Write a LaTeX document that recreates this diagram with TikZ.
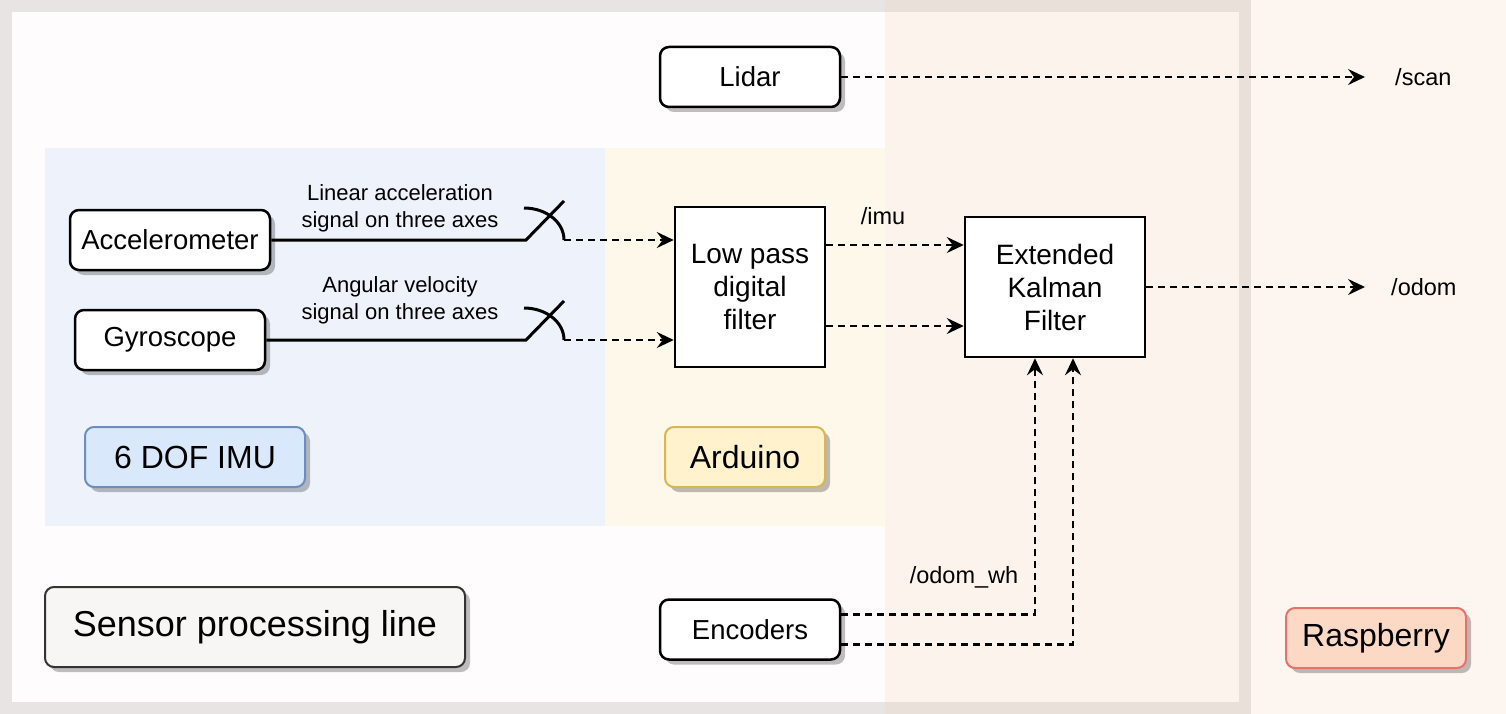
\documentclass[tikz,border=0pt]{standalone}
\usepackage{fontspec}
\setmainfont{Liberation Sans}
\usetikzlibrary{positioning, arrows.meta, shadows}

\definecolor{framegrey}{HTML}{E7E4E3}
\definecolor{framefill}{HTML}{FEFCFC}
\definecolor{imuback}{HTML}{EEF3FB}
\definecolor{ardback}{HTML}{FEF8EA}
\definecolor{raspback}{RGB}{248,213,187}
\definecolor{imufill}{HTML}{DAE8FC}
\definecolor{imuline}{HTML}{6C8EBF}
\definecolor{ardfill}{HTML}{FFF2CC}
\definecolor{ardline}{HTML}{D6B656}
\definecolor{raspfill}{HTML}{FCD9C4}
\definecolor{raspline}{HTML}{E8716A}
\definecolor{linefill}{HTML}{F8F6F4}
\definecolor{lineline}{HTML}{333333}

\tikzset{
  shade/.style={drop shadow={shadow xshift=5pt, shadow yshift=-5pt, fill=black, opacity=0.25}},
  box/.style={draw, line width=2.5pt, rounded corners=9pt, fill=white, shade,
    inner sep=0pt, minimum height=60pt, font=\fontsize{27.5}{33}\selectfont},
  block/.style={draw, line width=2.5pt, fill=white, inner sep=0pt, align=center,
    font=\fontsize{28}{33}\selectfont},
  tag/.style={draw, line width=2pt, rounded corners=9pt, shade, inner sep=0pt,
    minimum height=60pt, font=\fontsize{32}{38}\selectfont},
  note/.style={inner sep=0pt, align=center, font=\fontsize{22}{27}\selectfont},
  topic/.style={inner sep=0pt, font=\fontsize{23.5}{28}\selectfont},
  wire/.style={line width=3pt},
  flow/.style={line width=2.4pt, dash pattern=on 7pt off 5pt,
    -{Stealth[length=17pt, width=16pt, inset=6pt, sep=0pt]}},
}

\begin{document}
\begin{tikzpicture}[x=1pt, y=-1pt]
  \useasboundingbox (0,0) rectangle (1506,714);

  \draw[line width=12pt, draw=framegrey, fill=framefill] (6,6) rectangle (1245,708);
  \fill[imuback] (45,148) rectangle (605,526);
  \fill[ardback] (605,148) rectangle (885,526);
  \fill[raspback, opacity=0.22] (885,0) rectangle (1506,714);

  \node[box, minimum width=180pt] (lidar) at (750,77) {Lidar};
  \node[box, minimum width=200pt] (acc) at (170,240) {Accelerometer};
  \node[box, minimum width=190pt] (gyro) at (170,340) {Gyroscope};
  \node[block, minimum width=150pt, minimum height=160pt] (lowpass) at (750,287)
    {Low pass\\digital\\filter};
  \node[block, minimum width=180pt, minimum height=140pt] (ekf) at (1055,287)
    {Extended\\Kalman\\Filter};
  \node[box, minimum width=180pt, below=490pt of lidar] (enc) {Encoders};

  \node[tag, fill=imufill, draw=imuline, minimum width=220pt] (imu) at (195,457) {6 DOF IMU};
  \node[tag, fill=ardfill, draw=ardline, minimum width=160pt] (ard) at (745,457) {Arduino};
  \node[tag, fill=raspfill, draw=raspline, minimum width=180pt] (rasp) at (1376,638) {Raspberry};
  \node[tag, fill=linefill, draw=lineline, minimum width=420pt, minimum height=80pt,
    font=\fontsize{36}{42}\selectfont] (spl) at (255,627) {Sensor processing line};

  \node[note] (acctxt) at (400,208) {Linear acceleration\\signal on three axes};
  \node[note] (gyrotxt) at (400,300) {Angular velocity\\signal on three axes};

  \coordinate (scanend) at (1365,77);
  \coordinate (odomend) at (1365,287);
  \node[topic, right=30pt of scanend, anchor=west] (scan) {/scan};
  \node[topic, right=26pt of odomend, anchor=west] (odom) {/odom};
  \node[topic] (imutopic) at (883,216) {/imu};
  \node[topic] (odomwh) at (964,577) {/odom\_wh};

  \foreach \s/\y in {acc/240, gyro/340} {
    \draw[wire] (\s) -- (526,\y) -- (564,\y-39);
    \draw[wire] (524,\y-32) .. controls (546,\y-32) and (564,\y-18) .. (564,\y);
    \draw[flow] (564,\y) -- (lowpass.west |- 0,\y);
  }

  \draw[flow] (lidar) -- (scanend);
  \draw[flow] ([yshift=42pt]lowpass.east) -- ([yshift=42pt]lowpass.east -| ekf.west);
  \draw[flow] ([yshift=-39pt]lowpass.east) -- ([yshift=-39pt]lowpass.east -| ekf.west);
  \draw[flow] (ekf) -- (odomend);
  \draw[flow] ([yshift=15pt]enc.east) -| ([xshift=-20pt]ekf.south);
  \draw[flow] ([yshift=-15pt]enc.east) -| ([xshift=18pt]ekf.south);
\end{tikzpicture}
\end{document}
